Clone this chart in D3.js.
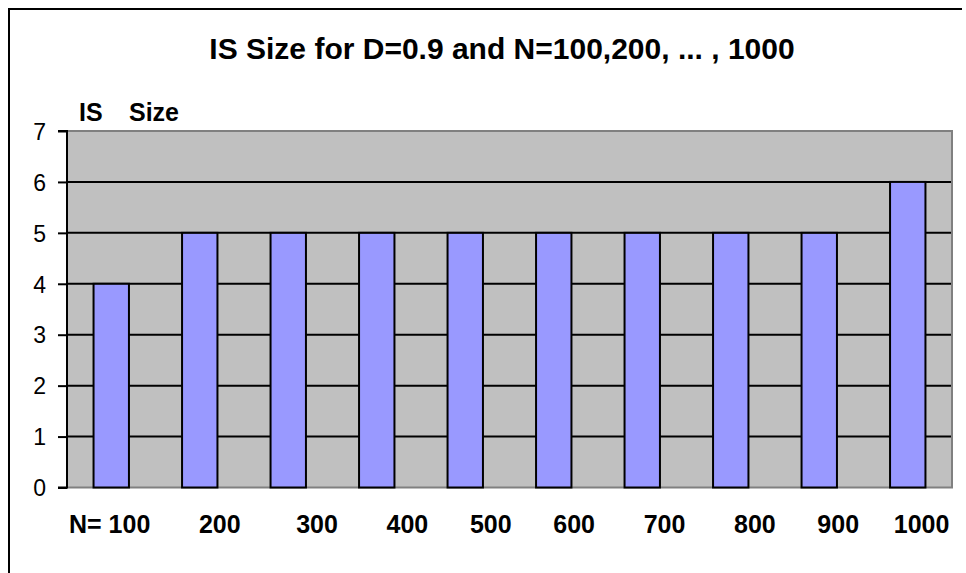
<!DOCTYPE html>
<html>
<head>
<meta charset="utf-8">
<script src="https://cdn.jsdelivr.net/npm/d3@7"></script>
<style>
  html, body { margin: 0; padding: 0; background: #ffffff; }
  svg { display: block; }
  text { font-family: "Liberation Sans", Arial, sans-serif; fill: #000; }
</style>
</head>
<body>
<svg id="chart" width="966" height="573"></svg>
<script>
// ---- data ----
const categories = ["100", "200", "300", "400", "500", "600", "700", "800", "900", "1000"];
const isSize = [4, 5, 5, 5, 5, 5, 5, 5, 5, 6];
const yTicks = [0, 1, 2, 3, 4, 5, 6, 7];
const titleText = "IS Size for D=0.9 and N=100,200, ... , 1000";
const yTitleParts = ["IS", "Size"];
const xLabelLine = "N= 100       200        300       400      500      600       700       800      900     1000";

// ---- layout ----
const W = 966, H = 573;
const plot = { left: 67, right: 952, top: 131, bottom: 487.5 };

const svg = d3.select("#chart");

// outer chart frame (only left + top visible)
svg.append("path")
  .attr("d", `M9,${H} V9 H962`)
  .attr("fill", "none")
  .attr("stroke", "#000")
  .attr("stroke-width", 2);

const x = d3.scaleBand()
  .domain(categories)
  .range([plot.left, plot.right])
  .paddingInner(0.6)
  .paddingOuter(0.3);

const y = d3.scaleLinear()
  .domain([0, 7])
  .range([plot.bottom, plot.top]);

// plot background
svg.append("rect")
  .attr("x", plot.left).attr("y", plot.top)
  .attr("width", plot.right - plot.left)
  .attr("height", plot.bottom - plot.top)
  .attr("fill", "#C0C0C0");

// gridlines
svg.append("g")
  .selectAll("line")
  .data(yTicks.filter(d => d > 0 && d < 7))
  .join("line")
  .attr("x1", plot.left).attr("x2", plot.right)
  .attr("y1", d => y(d)).attr("y2", d => y(d))
  .attr("stroke", "#000")
  .attr("stroke-width", 2);

// plot border (gray) on top, right, bottom
svg.append("path")
  .attr("d", `M${plot.left},${plot.top} H${plot.right} V${plot.bottom} H${plot.left}`)
  .attr("fill", "none")
  .attr("stroke", "#808080")
  .attr("stroke-width", 2);

// bars
svg.append("g")
  .selectAll("rect")
  .data(categories.map((c, i) => ({ c, v: isSize[i] })))
  .join("rect")
  .attr("x", d => x(d.c))
  .attr("y", d => y(d.v))
  .attr("width", x.bandwidth())
  .attr("height", d => y(0) - y(d.v))
  .attr("fill", "#9999FF")
  .attr("stroke", "#000")
  .attr("stroke-width", 2);

// y axis
const yAxis = d3.axisLeft(y)
  .tickValues(yTicks)
  .tickSize(9)
  .tickPadding(12)
  .tickFormat(d3.format("d"));

const gy = svg.append("g")
  .attr("transform", `translate(${plot.left},0)`)
  .call(yAxis);
gy.select(".domain").attr("stroke", "#000").attr("stroke-width", 2)
  .attr("d", `M-9,${plot.top}H0V${plot.bottom}H-9`);
gy.selectAll(".tick line").attr("stroke", "#000").attr("stroke-width", 2);
gy.selectAll(".tick text")
  .attr("font-family", "'Liberation Sans', Arial, sans-serif")
  .attr("font-size", 23)
  .attr("fill", "#000")
  .attr("dy", "0.36em");

// title
svg.append("text")
  .attr("x", 502)
  .attr("y", 59)
  .attr("text-anchor", "middle")
  .attr("font-size", 30)
  .attr("font-weight", "bold")
  .text(titleText);

// y axis title
const yt = svg.append("text")
  .attr("y", 121)
  .attr("font-size", 25)
  .attr("font-weight", "bold");
yt.append("tspan").attr("x", 79).text(yTitleParts[0]);
yt.append("tspan").attr("x", 129).text(yTitleParts[1]);

// category label line (typed text box style)
svg.append("text")
  .attr("x", 69)
  .attr("y", 533)
  .attr("font-size", 25)
  .attr("font-weight", "bold")
  .style("white-space", "pre")
  .text(xLabelLine);
</script>
</body>
</html>
